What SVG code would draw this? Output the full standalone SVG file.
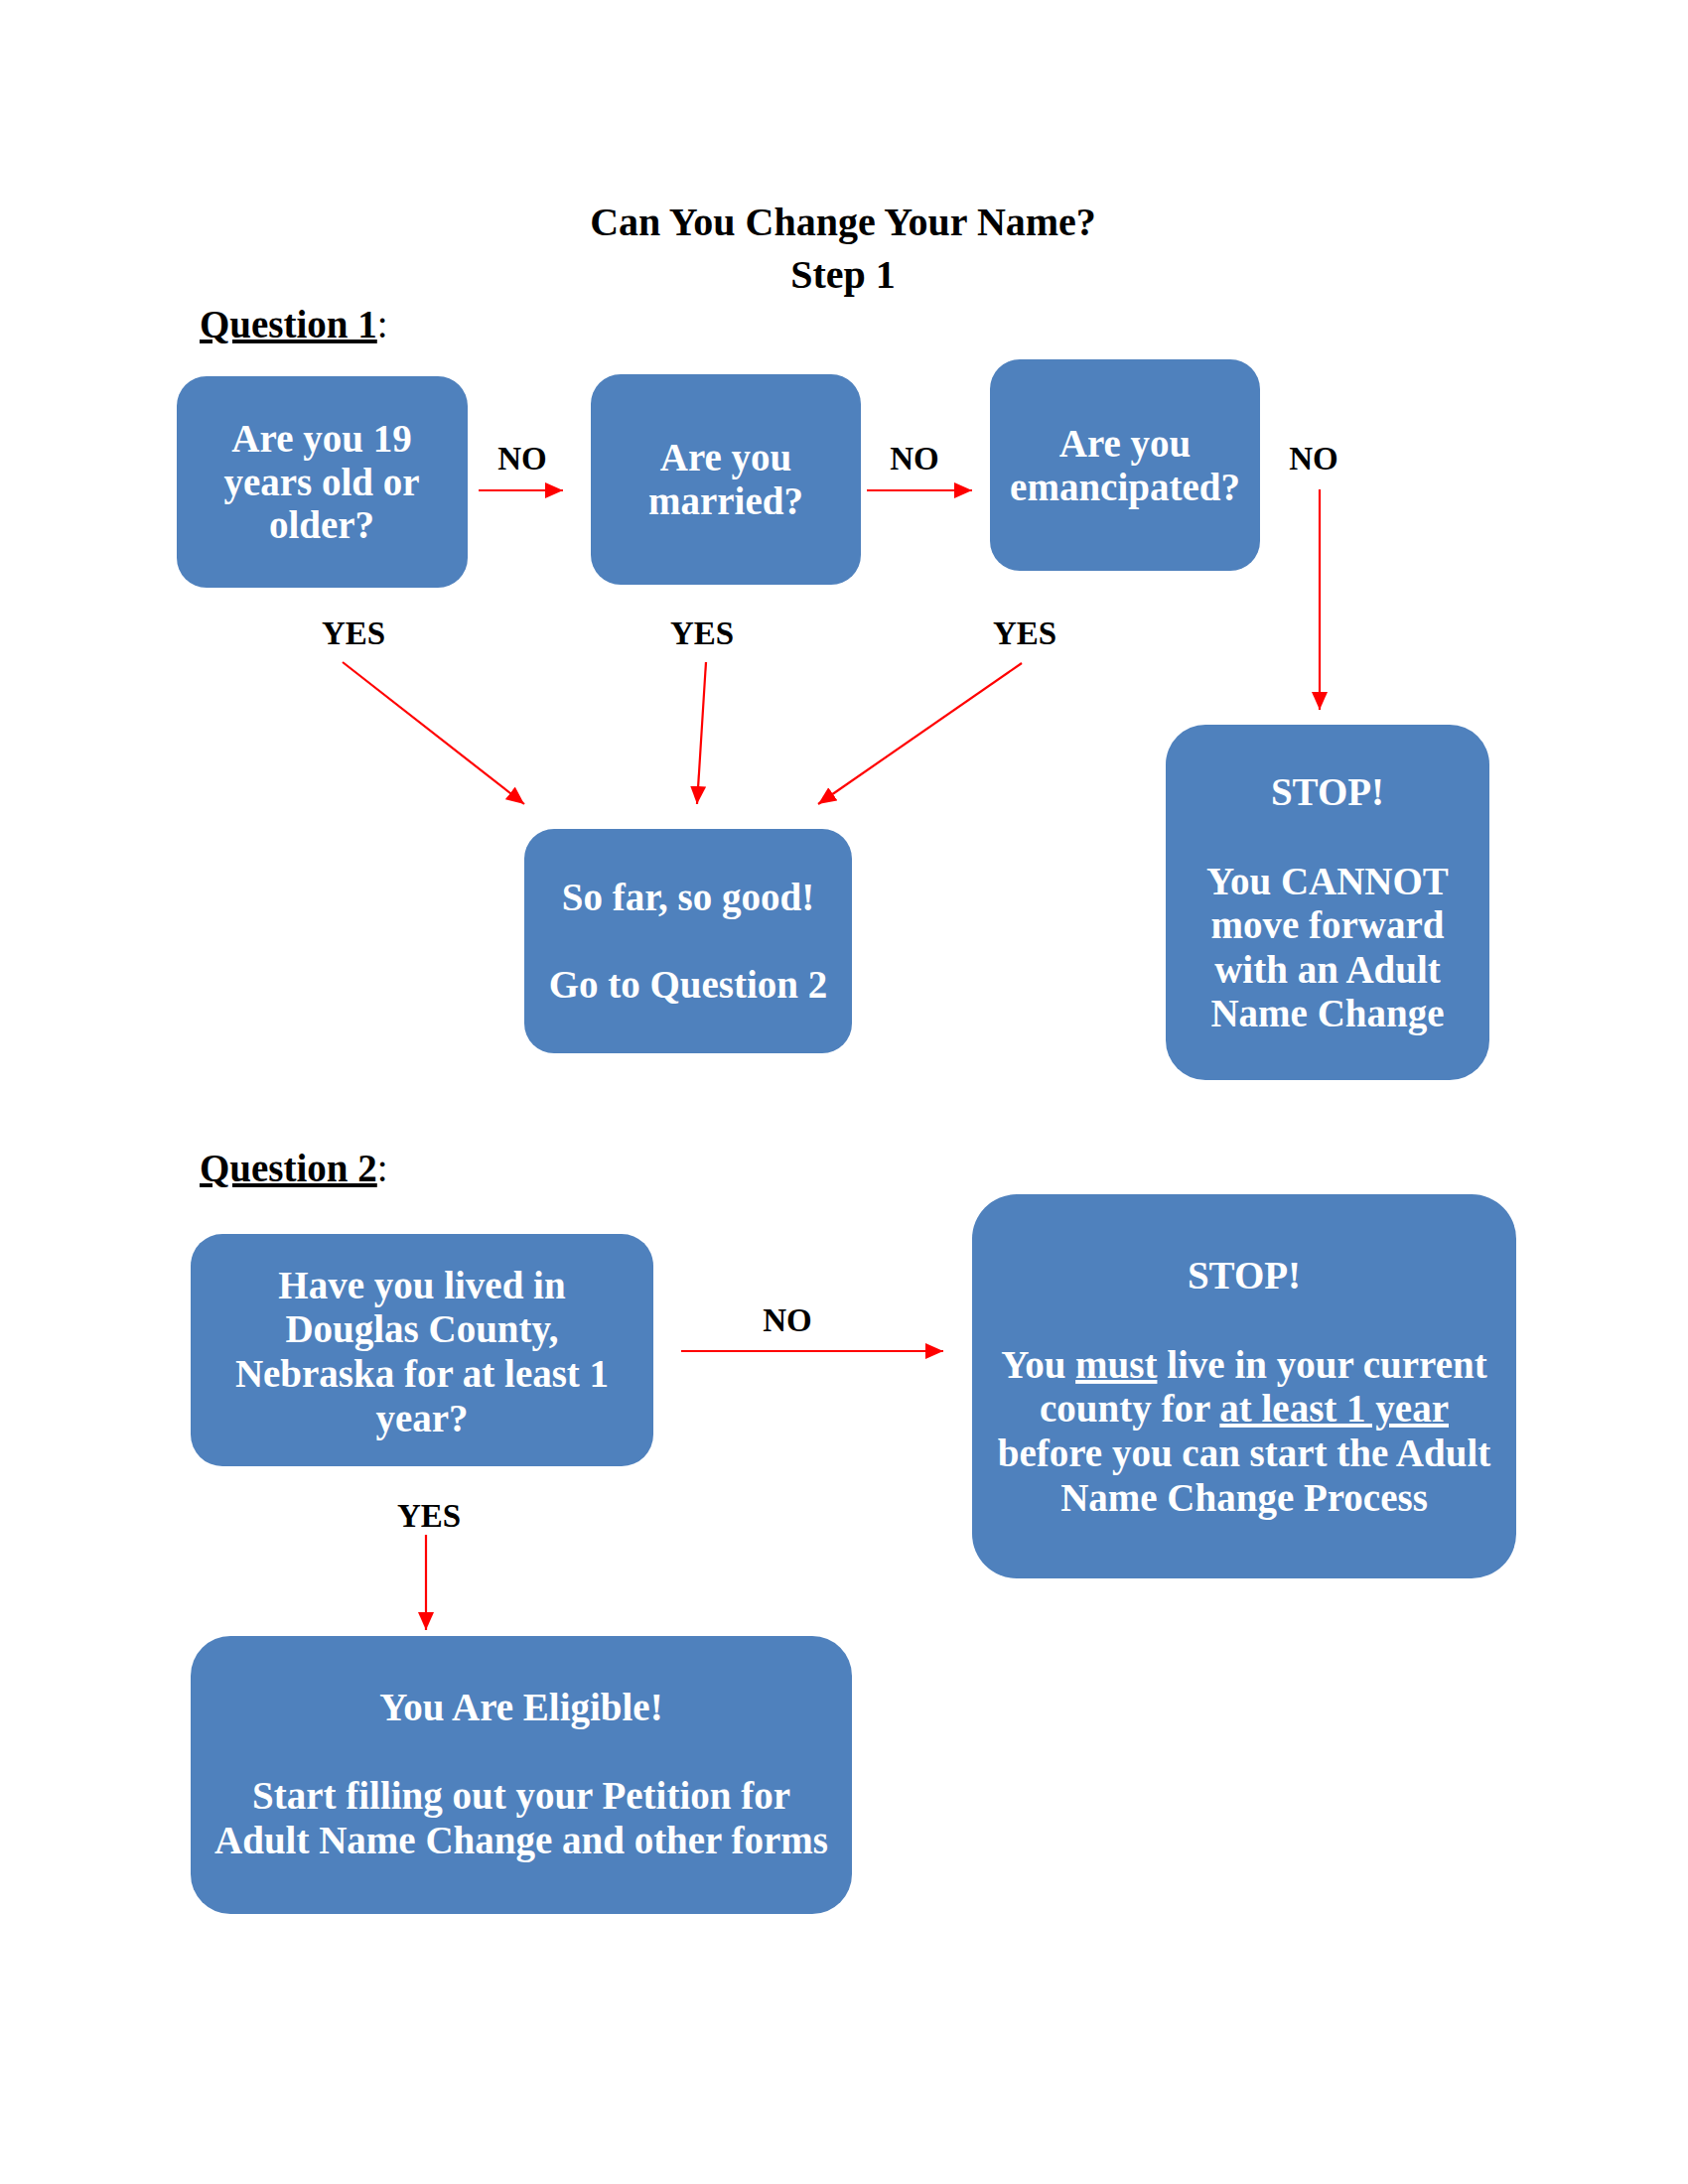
<svg xmlns="http://www.w3.org/2000/svg" width="1700" height="2200" viewBox="0 0 1700 2200">
<style>
text{font-family:"Liberation Serif","Times New Roman",serif;font-weight:bold;}
.box{fill:#4F81BD;}
.bt{fill:#FFFFFF;font-size:39px;text-anchor:middle;}
.hd{fill:#000000;font-size:40px;text-anchor:middle;}
.q{fill:#000000;font-size:39px;}
.lbl{fill:#000000;font-size:33px;text-anchor:middle;}
.arr{stroke:#FF0000;stroke-width:2.2;fill:none;marker-end:url(#ah);}
.u{text-decoration:underline;}
</style>
<defs>
<marker id="ah" markerUnits="userSpaceOnUse" markerWidth="19" markerHeight="17" refX="18" refY="8" orient="auto">
<path d="M0,0 L18,8 L0,16 z" fill="#FF0000"/>
</marker>
</defs>
<rect width="1700" height="2200" fill="#FFFFFF"/>
<g id="title">
<text class="hd" x="849" y="237">Can You Change Your Name?</text>
<text class="hd" x="849" y="290">Step 1</text>
</g>
<g id="question1-label">
<text class="q" x="201" y="340"><tspan class="u">Question 1</tspan><tspan font-weight="normal">:</tspan></text>
</g>
<g id="q1-age">
<rect class="box" x="178" y="379" width="293" height="213" rx="30"/>
<text class="bt" x="324" y="455">Are you 19</text>
<text class="bt" x="324" y="499">years old or</text>
<text class="bt" x="324" y="542">older?</text>
</g>
<g id="q1-married">
<rect class="box" x="595" y="377" width="272" height="212" rx="30"/>
<text class="bt" x="731" y="474">Are you</text>
<text class="bt" x="731" y="518">married?</text>
</g>
<g id="q1-emancipated">
<rect class="box" x="997" y="362" width="272" height="213" rx="30"/>
<text class="bt" x="1133" y="460">Are you</text>
<text class="bt" x="1133" y="504">emancipated?</text>
</g>
<g id="so-far">
<rect class="box" x="528" y="835" width="330" height="226" rx="30"/>
<text class="bt" x="693" y="917">So far, so good!</text>
<text class="bt" x="693" y="1005">Go to Question 2</text>
</g>
<g id="stop1">
<rect class="box" x="1174" y="730" width="326" height="358" rx="40"/>
<text class="bt" x="1337" y="811">STOP!</text>
<text class="bt" x="1337" y="901">You CANNOT</text>
<text class="bt" x="1337" y="945">move forward</text>
<text class="bt" x="1337" y="990">with an Adult</text>
<text class="bt" x="1337" y="1034">Name Change</text>
</g>
<g id="question2-label">
<text class="q" x="201" y="1190"><tspan class="u">Question 2</tspan><tspan font-weight="normal">:</tspan></text>
</g>
<g id="q2-county">
<rect class="box" x="192" y="1243" width="466" height="234" rx="32"/>
<text class="bt" x="425" y="1308">Have you lived in</text>
<text class="bt" x="425" y="1352">Douglas County,</text>
<text class="bt" x="425" y="1397">Nebraska for at least 1</text>
<text class="bt" x="425" y="1442">year?</text>
</g>
<g id="stop2">
<rect class="box" x="979" y="1203" width="548" height="387" rx="45"/>
<text class="bt" x="1253" y="1298">STOP!</text>
<text class="bt" x="1253" y="1388">You <tspan class="u">must</tspan> live in your current</text>
<text class="bt" x="1253" y="1432">county for <tspan class="u">at least 1 year</tspan></text>
<text class="bt" x="1253" y="1477">before you can start the Adult</text>
<text class="bt" x="1253" y="1522">Name Change Process</text>
</g>
<g id="eligible">
<rect class="box" x="192" y="1648" width="666" height="280" rx="40"/>
<text class="bt" x="525" y="1733">You Are Eligible!</text>
<text class="bt" x="525" y="1822">Start filling out your Petition for</text>
<text class="bt" x="525" y="1867">Adult Name Change and other forms</text>
</g>
<g id="connectors">
<line class="arr" x1="482" y1="494" x2="567" y2="494" stroke-width="3"/>
<line class="arr" x1="873" y1="494" x2="979" y2="494" stroke-width="3"/>
<line class="arr" x1="1329" y1="493" x2="1329" y2="715"/>
<line class="arr" x1="345" y1="667" x2="528" y2="810"/>
<line class="arr" x1="711" y1="667" x2="702" y2="810"/>
<line class="arr" x1="1029" y1="668" x2="824" y2="810"/>
<line class="arr" x1="686" y1="1361" x2="950" y2="1361" stroke-width="3"/>
<line class="arr" x1="429" y1="1546" x2="429" y2="1642"/>
<text class="lbl" x="526" y="473">NO</text>
<text class="lbl" x="921" y="473">NO</text>
<text class="lbl" x="1323" y="473">NO</text>
<text class="lbl" x="356" y="649">YES</text>
<text class="lbl" x="707" y="649">YES</text>
<text class="lbl" x="1032" y="649">YES</text>
<text class="lbl" x="793" y="1341">NO</text>
<text class="lbl" x="432" y="1538">YES</text>
</g>
</svg>
